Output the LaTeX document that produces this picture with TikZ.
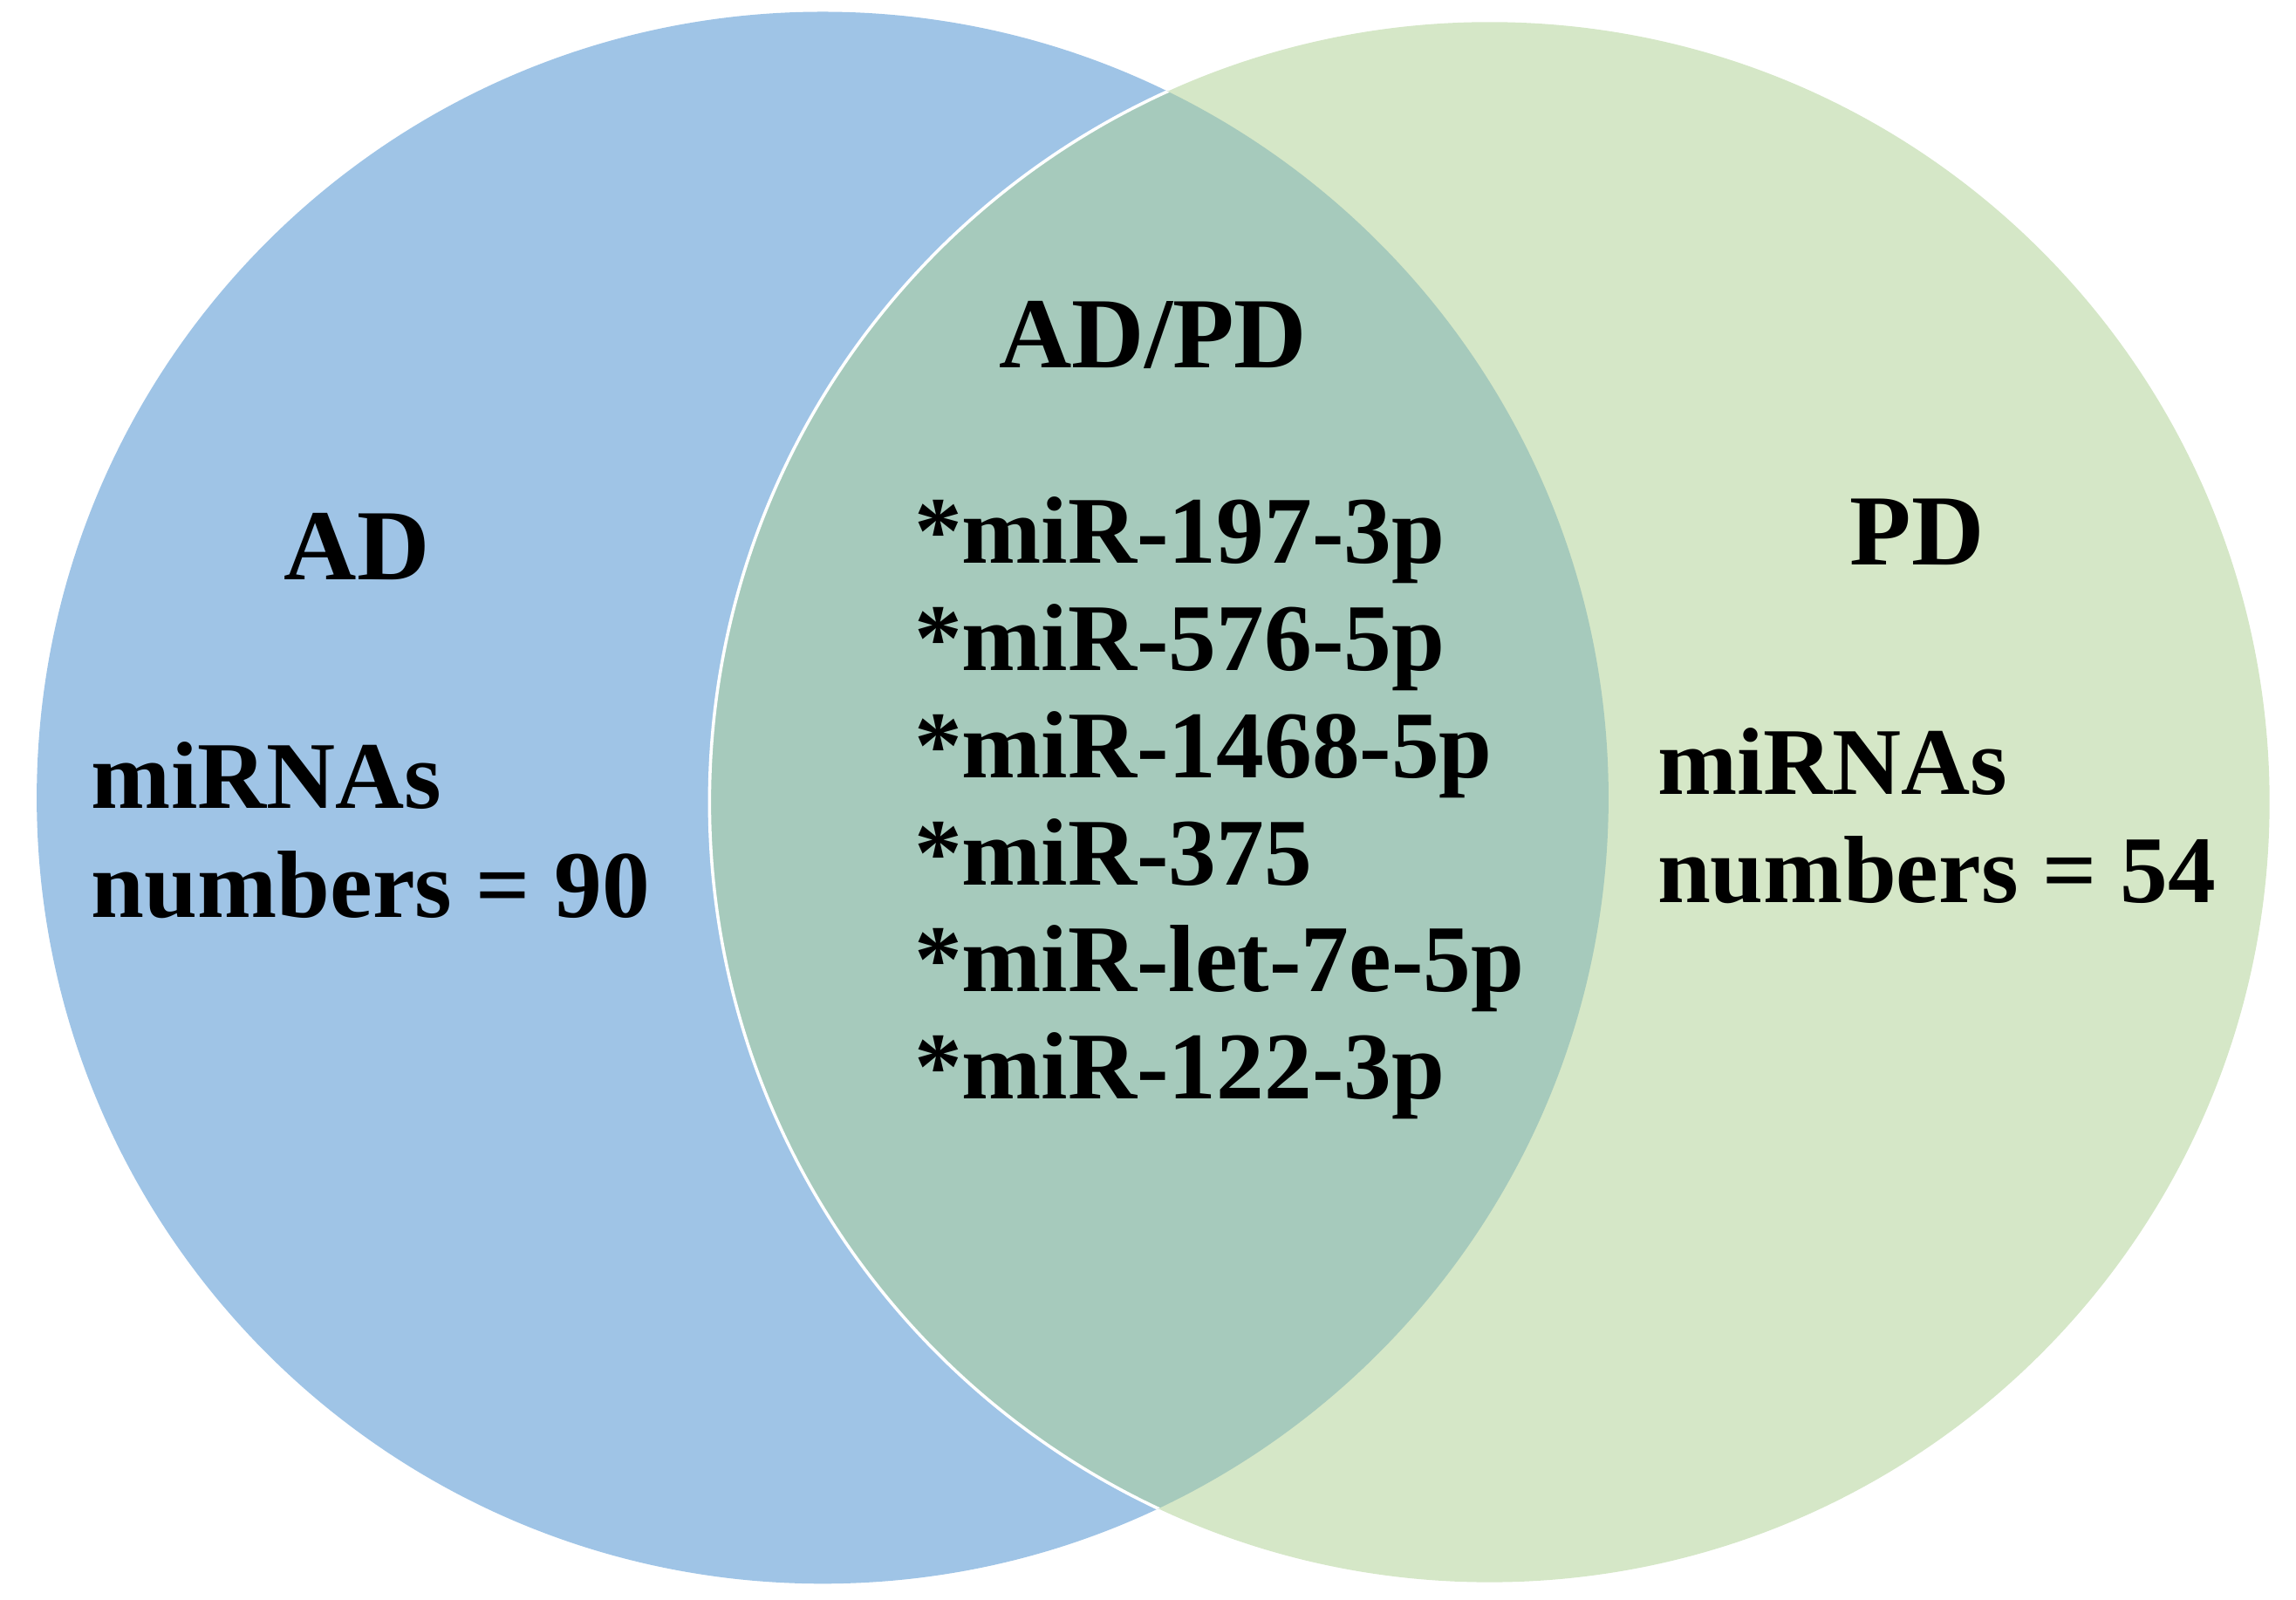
\documentclass[tikz,border=0pt]{standalone}
\usepackage{fontspec}
\setmainfont{Liberation Serif}
\definecolor{adc}{RGB}{159,196,230}
\definecolor{pdc}{RGB}{213,231,199}
\definecolor{midc}{RGB}{166,202,188}
\tikzset{lab/.style={font=\bfseries\fontsize{39}{44}\selectfont,inner sep=0pt},
 txt/.style={font=\bfseries\fontsize{37}{42}\selectfont,inner sep=0pt,align=left},
 lst/.style={font=\bfseries\fontsize{37}{41.5}\selectfont,inner sep=0pt,align=left}}
\begin{document}
\begin{tikzpicture}[x=0.02cm,y=-0.02cm]
\useasboundingbox (0,0) rectangle (1563,1089);
\fill[adc] (560,543) circle (535);
\fill[pdc] (1014,546) circle (531);
\begin{scope}
\clip (560,543) circle (535);
\fill[midc] (1014,546) circle (531);
\draw[white,line width=1.2pt] (1014,546) circle (531);
\end{scope}
\node[lab] (adpd) at (785,228) {AD/PD};
\node[lab] (ad) at (243,372) {AD};
\node[lab] (pd) at (1305,362) {PD};
\node[txt,anchor=north west] (l) at (62,505) {miRNAs\\numbers = 90};
\node[txt,anchor=north west] (r) at (1128,495) {miRNAs\\numbers = 54};
\node[lst,anchor=north west] (m) at (622,338) {*miR-197-3p\\*miR-576-5p\\*miR-1468-5p\\*miR-375\\*miR-let-7e-5p\\*miR-122-3p};
\end{tikzpicture}
\end{document}
